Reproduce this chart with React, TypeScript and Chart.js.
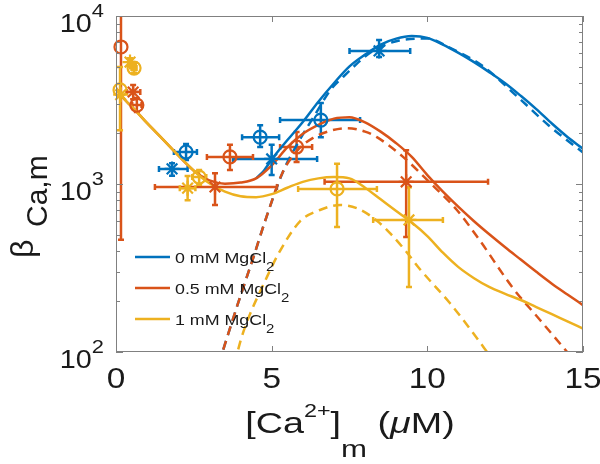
import { useEffect, useRef } from "react";
import { Chart, registerables } from "chart.js";

Chart.register(...registerables);

const FONT = '"Liberation Sans", Arial, Helvetica, sans-serif';
const SX = 1.15;
const SXT = 1.3;
const TXT = "#1a1a1a";
const AXC = "#808080";

const BLUE = "#0072BD";
const RED = "#D95319";
const YEL = "#EDB120";

// axis ticks
const xTicks = [0, 5, 10, 15];
const yMajor = [100, 1000, 10000];
const yExp = ["2", "3", "4"];
const yMinorMult = [2, 3, 4, 5, 6, 7, 8, 9];

// legend
const legendLabels = ["0 mM MgCl", "0.5 mM MgCl", "1 mM MgCl"];

// model curves (solid)
const fit0X = [4.5, 4.75, 5.0, 5.5, 6.0, 6.5, 7.0, 7.5, 8.0, 8.5, 9.0, 9.5, 10, 10.5, 11, 11.5, 12, 12.5, 13, 13.5, 14, 14.5, 15];
const fit0Y = [1080, 1200, 1400, 1820, 2340, 3090, 3980, 5010, 5890, 6760, 7330, 7590, 7410, 6760, 6030, 5310, 4620, 3980, 3350, 2790, 2290, 1905, 1620];
const fit05X = [0, 0.3, 0.6, 1.0, 1.5, 2.0, 2.5, 3.0, 3.5, 4.0, 4.5, 5.0, 5.5, 6.0, 6.5, 7.0, 7.5, 8.0, 8.5, 9.0, 9.5, 10, 10.5, 11, 11.5, 12, 12.5, 13, 13.5, 14, 14.5, 15];
const fit05Y = [3730, 3150, 2770, 2300, 1850, 1480, 1200, 1050, 1005, 1020, 1080, 1290, 1650, 1990, 2250, 2450, 2500, 2330, 2050, 1750, 1450, 1130, 900, 730, 600, 500, 420, 355, 300, 255, 220, 190];
const fit1X = [0, 0.3, 0.6, 1.0, 1.5, 2.0, 2.5, 3.0, 3.5, 4.0, 4.5, 5.0, 5.5, 6.0, 6.5, 7.0, 7.5, 8.0, 8.5, 9.0, 9.5, 10, 10.5, 11, 11.5, 12, 12.5, 13, 13.5, 14, 14.5, 15];
const fit1Y = [3730, 3150, 2770, 2300, 1850, 1480, 1200, 1010, 900, 845, 835, 870, 950, 1030, 1080, 1100, 1080, 950, 810, 690, 590, 490, 390, 320, 275, 243, 222, 204, 185, 168, 152, 138];

// model curves (dashed)
const dash0X = [3.3, 3.9, 4.4, 4.85, 5.36, 5.9, 6.4, 6.9, 7.3, 8.2, 9.1, 10, 10.7, 11.8, 12.9, 13.9, 15];
const dash0Y = [85, 190, 360, 650, 1180, 1830, 2600, 3650, 4350, 6100, 7150, 7350, 6500, 5000, 3300, 2230, 1540];
const dash05X = [3.3, 3.9, 4.4, 4.85, 5.36, 5.85, 6.33, 6.87, 7.42, 8.0, 8.38, 9.22, 10.09, 10.95, 11.69, 12.75, 13.62, 14.49, 14.8];
const dash05Y = [85, 190, 360, 650, 1180, 1600, 1880, 2070, 2150, 2050, 1900, 1450, 1015, 700, 460, 240, 155, 100, 85];
const dash1X = [3.8, 4.08, 4.85, 5.27, 5.91, 6.55, 7.2, 7.8, 8.4, 8.8, 9.3, 9.77, 10.73, 11.4, 11.92, 12.1];
const dash1Y = [85, 130, 280, 400, 600, 700, 750, 710, 600, 510, 400, 310, 195, 135, 100, 90];

// measured points: 0 mM (circles, stars)
const c0X = [2.25, 4.63, 6.58];
const c0Y = [1550, 1900, 2400];
const c0XLo = [1.86, 4.05, 5.27];
const c0XHi = [2.6, 5.24, 7.84];
const c0YLo = [1390, 1660, 1900];
const c0YHi = [1730, 2240, 3030];
const s0X = [1.8, 5.0, 8.45];
const s0Y = [1230, 1410, 6200];
const s0XLo = [1.38, 3.76, 7.5];
const s0XHi = [2.3, 6.46, 9.45];
const s0YLo = [1120, 1130, 5700];
const s0YHi = [1330, 1710, 7200];

// 0.5 mM
const c05X = [0.16, 0.67, 3.66, 5.8];
const c05Y = [6540, 2950, 1450, 1660];
const c05XLo = [0.16, 0.52, 2.92, 5.27];
const c05XHi = [0.16, 0.82, 4.4, 6.3];
const c05YLo = [465, 2680, 1210, 1350];
const c05YHi = [20000, 3250, 1710, 2040];
const s05X = [0.55, 3.18, 9.32];
const s05Y = [3530, 960, 1030];
const s05XLo = [0.35, 1.25, 6.7];
const s05XHi = [0.78, 5.17, 11.95];
const s05YLo = [3200, 750, 484];
const s05YHi = [3880, 1160, 1590];

// 1 mM
const c1X = [0.13, 0.58, 2.67, 7.1];
const c1Y = [3630, 4900, 1100, 935];
const c1XLo = [0.13, 0.5, 2.45, 5.85];
const c1XHi = [0.13, 0.66, 2.9, 8.38];
const c1YLo = [2090, 4600, 990, 555];
const c1YHi = [4970, 5200, 1210, 1320];
const s1X = [0.15, 0.45, 2.3, 9.41];
const s1Y = [3400, 5320, 945, 611];
const s1XLo = [0.15, 0.4, 2.05, 8.26];
const s1XHi = [0.15, 0.5, 2.55, 10.5];
const s1YLo = [3400, 5000, 800, 244];
const s1YHi = [3400, 5600, 1115, 955];

const pts = (xs: number[], ys: number[]) => xs.map((x, i) => ({ x, y: ys[i] }));

const errSeries = [
  { color: BLUE, x: c0X, y: c0Y, xLo: c0XLo, xHi: c0XHi, yLo: c0YLo, yHi: c0YHi },
  { color: BLUE, x: s0X, y: s0Y, xLo: s0XLo, xHi: s0XHi, yLo: s0YLo, yHi: s0YHi },
  { color: RED, x: c05X, y: c05Y, xLo: c05XLo, xHi: c05XHi, yLo: c05YLo, yHi: c05YHi },
  { color: RED, x: s05X, y: s05Y, xLo: s05XLo, xHi: s05XHi, yLo: s05YLo, yHi: s05YHi },
  { color: YEL, x: c1X, y: c1Y, xLo: c1XLo, xHi: c1XHi, yLo: c1YLo, yHi: c1YHi },
  { color: YEL, x: s1X, y: s1Y, xLo: s1XLo, xHi: s1XHi, yLo: s1YLo, yHi: s1YHi },
];

type Part = { t: string; s: number; dy?: number; st?: string };
const fontOf = (p: Part) => `${p.st || ""} ${p.s}px ${FONT}`;

function rich(ctx: CanvasRenderingContext2D, parts: Part[], x: number, y: number, align: string, sx: number) {
  const ws = parts.map((p) => {
    ctx.font = fontOf(p);
    return ctx.measureText(p.t).width * sx;
  });
  const total = ws.reduce((a, b) => a + b, 0);
  let cx = align === "left" ? x : align === "center" ? x - total / 2 : x - total;
  parts.forEach((p, i) => {
    ctx.font = fontOf(p);
    ctx.save();
    ctx.translate(cx, y + (p.dy || 0));
    ctx.scale(sx, 1);
    ctx.fillText(p.t, 0, 0);
    ctx.restore();
    cx += ws[i];
  });
}

const decor = {
  id: "decor",
  beforeDatasetsDraw(chart: any) {
    const { ctx, chartArea: a } = chart;
    const xs = chart.scales.x;
    const ys = chart.scales.y;
    ctx.save();
    ctx.beginPath();
    ctx.rect(a.left, a.top, a.right - a.left, a.bottom - a.top);
    ctx.clip();
    ctx.lineWidth = 2.5;
    const cap = 3;
    for (const s of errSeries) {
      ctx.strokeStyle = s.color;
      for (let i = 0; i < s.x.length; i++) {
        const px = xs.getPixelForValue(s.x[i]);
        const py = ys.getPixelForValue(s.y[i]);
        const x0 = xs.getPixelForValue(s.xLo[i]);
        const x1 = xs.getPixelForValue(s.xHi[i]);
        const y0 = ys.getPixelForValue(s.yLo[i]);
        const y1 = ys.getPixelForValue(s.yHi[i]);
        ctx.beginPath();
        if (x1 - x0 > 1) {
          ctx.moveTo(x0, py); ctx.lineTo(x1, py);
          ctx.moveTo(x0, py - cap); ctx.lineTo(x0, py + cap);
          ctx.moveTo(x1, py - cap); ctx.lineTo(x1, py + cap);
        }
        if (Math.abs(y0 - y1) > 1) {
          ctx.moveTo(px, y0); ctx.lineTo(px, y1);
          ctx.moveTo(px - cap, y0); ctx.lineTo(px + cap, y0);
          ctx.moveTo(px - cap, y1); ctx.lineTo(px + cap, y1);
        }
        ctx.stroke();
      }
    }
    ctx.restore();
  },
  afterDatasetsDraw(chart: any) {
    const { ctx, chartArea: a } = chart;
    const xs = chart.scales.x;
    const ys = chart.scales.y;
    ctx.save();
    // box
    ctx.strokeStyle = AXC;
    ctx.lineWidth = 1;
    ctx.strokeRect(a.left + 0.5, a.top + 0.5, a.right - a.left - 1, a.bottom - a.top - 1);
    ctx.beginPath();
    for (const v of xTicks) {
      const px = Math.round(xs.getPixelForValue(v)) + 0.5;
      ctx.moveTo(px, a.bottom); ctx.lineTo(px, a.bottom - 6);
      ctx.moveTo(px, a.top); ctx.lineTo(px, a.top + 6);
    }
    for (let k = 0; k < yMajor.length; k++) {
      const v = yMajor[k];
      const py = Math.round(ys.getPixelForValue(v)) + 0.5;
      ctx.moveTo(a.left, py); ctx.lineTo(a.left + 7, py);
      ctx.moveTo(a.right, py); ctx.lineTo(a.right - 7, py);
      if (k < yMajor.length - 1) {
        for (const m of yMinorMult) {
          const q = Math.round(ys.getPixelForValue(v * m)) + 0.5;
          ctx.moveTo(a.left, q); ctx.lineTo(a.left + 4, q);
          ctx.moveTo(a.right, q); ctx.lineTo(a.right - 4, q);
        }
      }
    }
    ctx.stroke();

    ctx.fillStyle = TXT;
    ctx.textBaseline = "alphabetic";
    ctx.textAlign = "left";
    for (const v of xTicks) {
      rich(ctx, [{ t: String(v), s: 29 }], xs.getPixelForValue(v), a.bottom + 36, "center", SX);
    }
    for (let k = 0; k < yMajor.length; k++) {
      const py = ys.getPixelForValue(yMajor[k]);
      rich(ctx, [{ t: "10", s: 25 }, { t: yExp[k], s: 19, dy: -15 }], 104, py + 16, "right", SX);
    }
    // x title
    rich(
      ctx,
      [
        { t: "[Ca", s: 29 },
        { t: "2+", s: 18, dy: -16 },
        { t: "]", s: 29 },
        { t: "m", s: 24, dy: 24 },
        { t: " (", s: 29 },
        { t: "\u03bc", s: 29, st: "italic" },
        { t: "M)", s: 29 },
      ],
      350,
      433,
      "center",
      SXT
    );
    // y title (rotated)
    ctx.save();
    ctx.translate(33, 258);
    ctx.rotate(-Math.PI / 2);
    ctx.font = `32px ${FONT}`;
    ctx.fillText("\u03b2", 0, 0);
    ctx.font = `30px ${FONT}`;
    ctx.fillText("Ca,m", 31, 14);
    ctx.restore();

    // legend
    const colors = [BLUE, RED, YEL];
    const ly = [257, 288, 319];
    for (let i = 0; i < legendLabels.length; i++) {
      ctx.strokeStyle = colors[i];
      ctx.lineWidth = 2.5;
      ctx.beginPath();
      ctx.moveTo(135, ly[i]);
      ctx.lineTo(170, ly[i]);
      ctx.stroke();
      ctx.fillStyle = TXT;
      rich(ctx, [{ t: legendLabels[i], s: 15.5 }, { t: "2", s: 13, dy: 8 }], 175, ly[i] + 5.5, "left", SX);
    }
    ctx.restore();
  },
};

const curve = (xs: number[], ys: number[], color: string, dashed: boolean, order: number) => ({
  type: "scatter" as const,
  data: pts(xs, ys),
  showLine: true,
  borderColor: color,
  backgroundColor: color,
  borderWidth: 2.5,
  borderDash: dashed ? [9, 6] : [],
  pointRadius: 0,
  cubicInterpolationMode: "monotone" as const,
  clip: 0,
  order,
});

const marks = (xs: number[], ys: number[], color: string, style: string, order: number) => ({
  type: "scatter" as const,
  data: pts(xs, ys),
  showLine: false,
  borderColor: color,
  backgroundColor: "rgba(0,0,0,0)",
  pointStyle: style,
  pointRadius: style === "circle" ? 6.5 : 7.5,
  pointBorderWidth: 2.2,
  clip: false,
  order,
});

export default function App() {
  const ref = useRef<HTMLCanvasElement>(null);
  useEffect(() => {
    const chart = new Chart(ref.current as HTMLCanvasElement, {
      type: "scatter",
      data: {
        datasets: [
          marks(c0X, c0Y, BLUE, "circle", 0),
          marks(s0X, s0Y, BLUE, "star", 0),
          marks(c05X, c05Y, RED, "circle", 0),
          marks(s05X, s05Y, RED, "star", 0),
          marks(c1X, c1Y, YEL, "circle", 0),
          marks(s1X, s1Y, YEL, "star", 0),
          curve(fit1X, fit1Y, YEL, false, 3),
          curve(fit05X, fit05Y, RED, false, 4),
          curve(fit0X, fit0Y, BLUE, false, 5),
          curve(dash1X, dash1Y, YEL, true, 6),
          curve(dash05X, dash05Y, RED, true, 7),
          curve(dash0X, dash0Y, BLUE, true, 8),
        ] as any,
      },
      options: {
        responsive: false,
        animation: false,
        events: [],
        layout: { padding: { left: 116, top: 16, right: 17, bottom: 112 } },
        plugins: { legend: { display: false }, tooltip: { enabled: false } },
        scales: {
          x: { type: "linear", min: 0, max: 15, display: false },
          y: { type: "logarithmic", min: 100, max: 10000, display: false },
        },
      },
      plugins: [decor],
    });
    return () => chart.destroy();
  }, []);
  return (
    <div style={{ position: "fixed", left: 0, top: 0, width: 600, height: 464, background: "#fff" }}>
      <canvas ref={ref} width={600} height={464} style={{ width: 600, height: 464, display: "block" }} />
    </div>
  );
}
